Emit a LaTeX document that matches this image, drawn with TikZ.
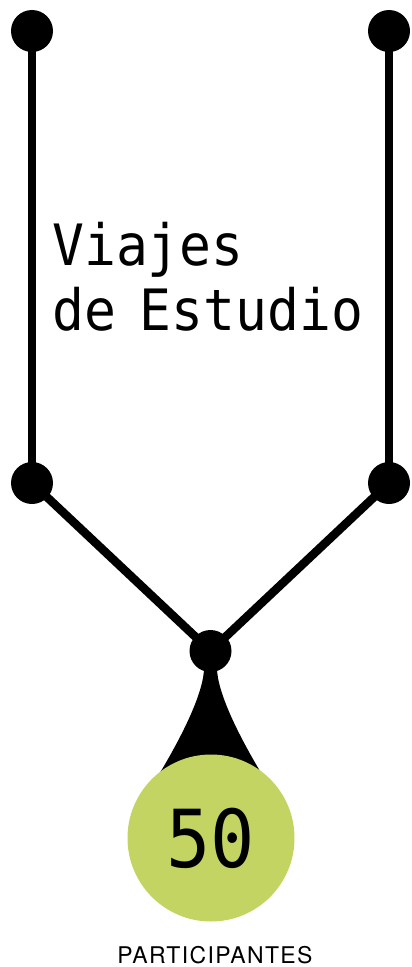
\documentclass[tikz,border=0pt]{standalone}
\usepackage{fontspec}
\setmainfont{Liberation Sans}
\newfontfamily\monof[FakeStretch=0.93]{DejaVu Sans Mono}
\newfontfamily\numf[FakeStretch=0.92]{DejaVu Sans Mono}
\newfontfamily\capsf[LetterSpace=6]{TeX Gyre Heros}
\usetikzlibrary{calc}
\definecolor{limefill}{HTML}{C4D462}
\begin{document}
\begin{tikzpicture}[x=1pt,y=-1pt,
  dot/.style={circle,fill=black,minimum size=42pt,inner sep=0pt},
  wire/.style={line width=8.5pt},
  drop/.style={fill=black},
  bigdot/.style={circle,fill=limefill,minimum size=167pt,inner sep=0pt}]
\useasboundingbox (0,0) rectangle (412,967);
\node[dot] (t1) at (32,31) {};
\node[dot] (t2) at (389,31) {};
\node[dot] (m1) at (32,483) {};
\node[dot] (m2) at (389,483) {};
\node[dot] (j) at (210.5,651) {};
\draw[wire] (t1.center) -- (m1.center);
\draw[wire] (t2.center) -- (m2.center);
\draw[wire] (m1.center) -- (j.center);
\draw[wire] (m2.center) -- (j.center);
\fill[drop] ($(j.center)+(-6.5,0)$) -- ($(j.center)+(-6.5,17)$)
  .. controls ($(j.center)+(-6.5,39)$) and ($(j.center)+(-25.5,84)$) .. ($(j.center)+(-67.5,149)$)
  -- ($(j.center)+(67.5,149)$)
  .. controls ($(j.center)+(25.5,84)$) and ($(j.center)+(6.5,39)$) .. ($(j.center)+(6.5,17)$)
  -- ($(j.center)+(6.5,0)$) -- cycle;
\node[bigdot] (g) at (211,838) {};
\node[font=\numf\fontsize{80}{80}\selectfont,inner sep=0pt] (num) at (g.center) {50};
\node[anchor=base,inner sep=0pt,font=\capsf\fontsize{23}{23}\selectfont] (cap) at (215,963) {PARTICIPANTES};
\node[anchor=base west,inner sep=0pt,font=\monof\fontsize{57}{65}\selectfont] (l1) at (52,265) {Viajes};
\node[anchor=base west,inner sep=0pt,font=\monof\fontsize{57}{65}\selectfont] (l2) at (52,330) {de\hspace{-8pt} Estudio};
\end{tikzpicture}
\end{document}
